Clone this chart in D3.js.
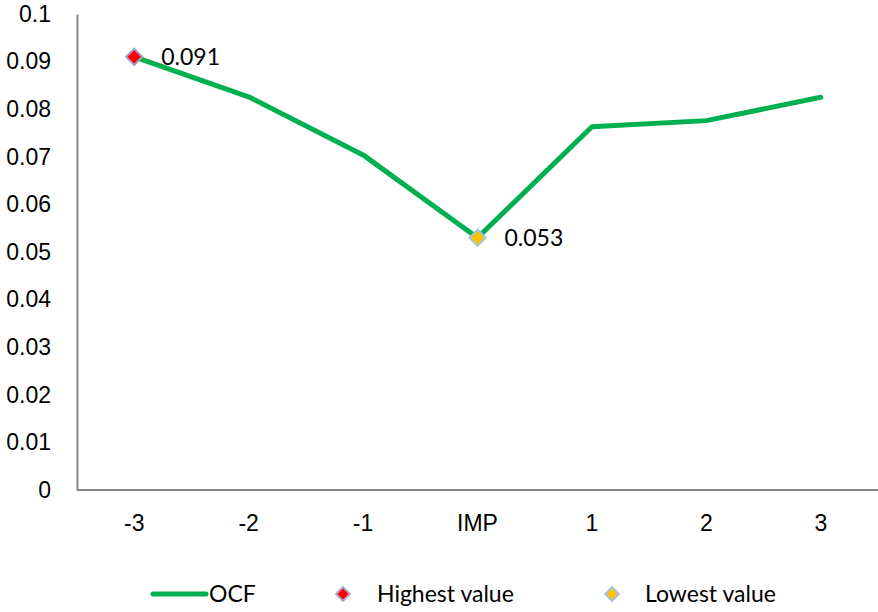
<!DOCTYPE html>
<html>
<head>
<meta charset="utf-8">
<script src="https://cdn.jsdelivr.net/npm/d3@7"></script>
<style>
  body { margin: 0; background: #fff; }
  svg { font-family: Lato, "Open Sans", sans-serif; }
</style>
</head>
<body>
<svg id="chart" width="878" height="612"></svg>
<script>
const categories = ['-3', '-2', '-1', 'IMP', '1', '2', '3']
const ocf = [0.091, 0.0826, 0.0704, 0.053, 0.0763, 0.0776, 0.0825]
const yTicks = [0, 0.01, 0.02, 0.03, 0.04, 0.05, 0.06, 0.07, 0.08, 0.09, 0.1]
const legendLabels = ['OCF', 'Highest value', 'Lowest value']

const margin = {top: 14, right: 0, bottom: 122, left: 77}
const width = 878, height = 612
const fs = 23

const svg = d3.select('#chart')

// x scale
const x = d3.scaleBand()
  .domain(categories)
  .range([margin.left, width - margin.right])

// y scale
const y = d3.scaleLinear()
  .domain([0, 0.1])
  .range([height - margin.bottom, margin.top])

const xAxis = svg.append('g')
  .attr('transform', 'translate(0,' + y(0) + ')')
  .call(d3.axisBottom(x).tickSize(0).tickPadding(33))
xAxis.select('.domain').attr('stroke', '#868686').attr('stroke-width', 2)
  .attr('d', 'M' + margin.left + ',0H' + (width - margin.right))
xAxis.selectAll('text').attr('font-size', fs).attr('fill', '#000').attr('dy', '0.35em')

const yAxis = svg.append('g')
  .attr('transform', 'translate(' + margin.left + ',0)')
  .call(d3.axisLeft(y).tickValues(yTicks).tickSize(0).tickPadding(26).tickFormat(d => String(+d.toFixed(2))))
yAxis.select('.domain').attr('stroke', '#868686').attr('stroke-width', 2)
yAxis.selectAll('text').attr('font-size', fs).attr('fill', '#000').attr('text-anchor', 'end')

const line = d3.line()
  .x((d, i) => x(categories[i]) + x.bandwidth() / 2)
  .y(d => y(d))

svg.append('path')
  .datum(ocf)
  .attr('fill', 'none')
  .attr('stroke', '#00B050')
  .attr('stroke-width', 5)
  .attr('stroke-linejoin', 'round')
  .attr('stroke-linecap', 'round')
  .attr('d', line)

const hi = d3.maxIndex(ocf), lo = d3.minIndex(ocf)
const markers = [
  {i: hi, fill: '#FF0000', stroke: '#A9A3C9'},
  {i: lo, fill: '#FFC000', stroke: '#9DC3E6'}
]
const diamond = d3.symbol().type(d3.symbolDiamond2).size(170)

svg.selectAll('.mk')
  .data(markers)
  .join('path')
    .attr('class', 'mk')
    .attr('transform', d => 'translate(' + (x(categories[d.i]) + x.bandwidth() / 2) + ',' + y(ocf[d.i]) + ')')
    .attr('d', diamond)
    .attr('fill', d => d.fill)
    .attr('stroke', d => d.stroke)
    .attr('stroke-width', 2)

svg.selectAll('.lbl')
  .data(markers)
  .join('text')
    .attr('class', 'lbl')
    .attr('x', d => x(categories[d.i]) + x.bandwidth() / 2 + 27)
    .attr('y', d => y(ocf[d.i]))
    .attr('dy', '0.35em')
    .attr('font-size', fs)
    .text(d => ocf[d.i].toFixed(3))

// legend
const lg = svg.append('g').attr('transform', 'translate(0,594)')
const legendSym = d3.symbol().type(d3.symbolDiamond2).size(120)
lg.append('line').attr('x1', 153).attr('x2', 206).attr('stroke', '#00B050')
  .attr('stroke-width', 5).attr('stroke-linecap', 'round')
lg.append('text').attr('x', 209).attr('dy', '0.35em').attr('font-size', fs).text(legendLabels[0])
lg.append('path').attr('transform', 'translate(343,0)').attr('d', legendSym)
  .attr('fill', '#FF0000').attr('stroke', '#A9A3C9').attr('stroke-width', 2)
lg.append('text').attr('x', 377).attr('dy', '0.35em').attr('font-size', fs).text(legendLabels[1])
lg.append('path').attr('transform', 'translate(612,0)').attr('d', legendSym)
  .attr('fill', '#FFC000').attr('stroke', '#9DC3E6').attr('stroke-width', 2)
lg.append('text').attr('x', 645).attr('dy', '0.35em').attr('font-size', fs).text(legendLabels[2])
</script>
</body>
</html>
